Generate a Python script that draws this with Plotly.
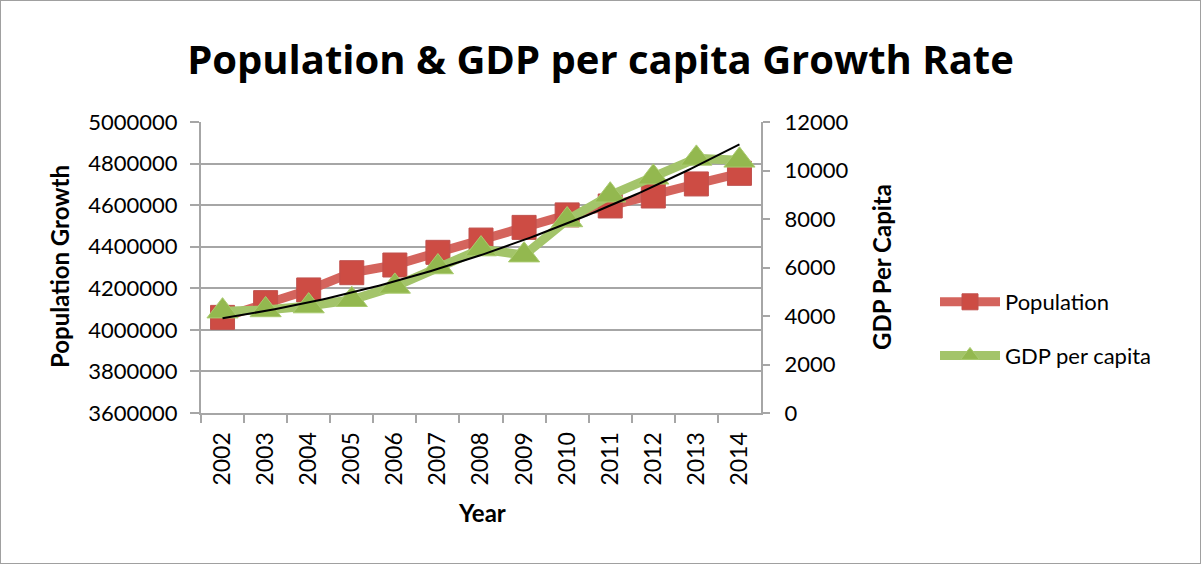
import numpy as np
import plotly.graph_objects as go

# Annual data
years = ["2002", "2003", "2004", "2005", "2006", "2007", "2008",
         "2009", "2010", "2011", "2012", "2013", "2014"]
population = [4060000, 4131000, 4192000, 4275000, 4312000, 4373000, 4432000,
              4493000, 4553000, 4596000, 4644000, 4702000, 4753000]
gdp_per_capita = [4200, 4250, 4410, 4670, 5220, 6020, 6760,
                  6510, 7960, 8980, 9720, 10500, 10420]

pop_ticks = list(range(3600000, 5000001, 200000))
gdp_ticks = list(range(0, 12001, 2000))

# Second-order polynomial trend of GDP per capita over the year index
idx = np.arange(1, len(years) + 1)
coef = np.polyfit(idx, gdp_per_capita, 2)
trend_x = np.linspace(1, len(years), 120)
trend_y = np.polyval(coef, trend_x)

FONT = "Lato"
W, H = 1201, 564
x0, x1 = 201 / W, 761 / W
y0, y1 = 1 - 413 / H, 1 - 122 / H

fig = go.Figure()

fig.add_trace(go.Scatter(
    x=years, y=population, name="Population", mode="lines+markers",
    line=dict(color="#D4645D", width=9),
    marker=dict(symbol="square", size=24, color="#CD4C44",
                line=dict(color="#C0504D", width=1)),
    legendgroup="pop", yaxis="y", xaxis="x",
))
fig.add_trace(go.Scatter(
    x=years, y=gdp_per_capita, name="GDP per capita", mode="lines+markers",
    line=dict(color="#A3C46A", width=9),
    marker=dict(symbol="triangle-up", size=27, color="#93B84F",
                line=dict(color="#A9CB6E", width=1)),
    legendgroup="gdp", yaxis="y2", xaxis="x",
))
fig.add_trace(go.Scatter(
    x=trend_x - 1, y=trend_y, mode="lines", showlegend=False,
    line=dict(color="#000000", width=2), yaxis="y2", xaxis="x2",
    hoverinfo="skip",
))

grid = "#A6A6A6"
fig.update_layout(
    width=W, height=H,
    margin=dict(l=0, r=0, t=0, b=0),
    paper_bgcolor="white", plot_bgcolor="white",
    font=dict(family=FONT, size=22, color="#000000"),
    title=dict(text="<b>Population & GDP per capita Growth Rate</b>",
               x=0.5, xanchor="center", y=1 - 60 / H, yanchor="middle",
               font=dict(family="Open Sans", size=40, color="#000000")),
    xaxis=dict(domain=[x0, x1], type="category", categoryorder="array",
               categoryarray=years, range=[-0.5, len(years) - 0.5],
               tickson="boundaries", ticks="outside", ticklen=8,
               tickcolor=grid, tickwidth=2, showgrid=False,
               showline=True, linecolor=grid, linewidth=2,
               tickangle=-90, tickfont=dict(size=23), automargin=False,
               ticklabelstandoff=8, anchor="y"),
    xaxis2=dict(domain=[x0, x1], overlaying="x", range=[-0.5, len(years) - 0.5],
                visible=False, anchor="y2"),
    yaxis=dict(domain=[y0, y1], range=[3600000, 5000000], tickvals=pop_ticks,
               tickformat="d", ticks="outside", ticklen=9, tickcolor=grid,
               tickwidth=2, showgrid=True, gridcolor=grid, gridwidth=2,
               showline=True, linecolor=grid, linewidth=2, zeroline=False,
               ticklabelstandoff=8,
               tickfont=dict(size=22), automargin=False, anchor="x"),
    yaxis2=dict(domain=[y0, y1], range=[0, 12000], tickvals=gdp_ticks,
                tickformat="d",
                overlaying="y", side="right", anchor="x", ticks="outside",
                ticklen=7, tickcolor=grid, tickwidth=2, showgrid=False,
                showline=True, linecolor=grid, linewidth=2, zeroline=False,
                ticklabelstandoff=10,
                tickfont=dict(size=22), automargin=False),
    legend=dict(x=935 / W, xanchor="left", y=1 - 329 / H, yanchor="middle",
                font=dict(size=22), tracegroupgap=22, itemwidth=60,
                bgcolor="rgba(0,0,0,0)"),
    showlegend=True,
    annotations=[
        dict(text="<b>Population Growth</b>", x=60 / W, y=1 - 267 / H,
             xref="paper", yref="paper", xanchor="center", yanchor="middle",
             textangle=-90, showarrow=False, font=dict(size=24)),
        dict(text="<b>GDP Per Capita</b>", x=882 / W, y=1 - 267 / H,
             xref="paper", yref="paper", xanchor="center", yanchor="middle",
             textangle=-90, showarrow=False, font=dict(size=24)),
        dict(text="<b>Year</b>", x=482 / W, y=1 - 512 / H,
             xref="paper", yref="paper", xanchor="center", yanchor="middle",
             showarrow=False, font=dict(size=24)),
    ],
    shapes=[dict(type="rect", xref="paper", yref="paper", x0=0, y0=0,
                 x1=1, y1=1, line=dict(color="#A0A0A0", width=2))],
)

fig.write_html("out.html")
